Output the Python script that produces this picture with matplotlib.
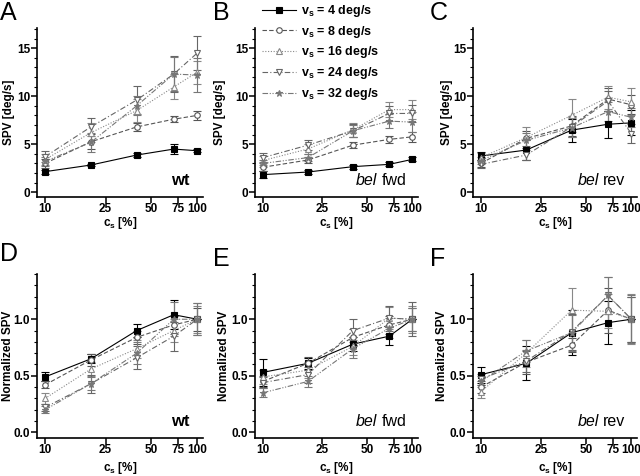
import matplotlib
matplotlib.use("Agg")
import matplotlib.pyplot as plt
from matplotlib.ticker import MultipleLocator, FixedLocator, NullLocator, FormatStrFormatter

plt.rcParams['font.family'] = ['Liberation Sans', 'DejaVu Sans']

contrast = [10, 20, 40, 70, 100]
xticks = [10, 25, 50, 75, 100]
speeds = ["4", "8", "16", "24", "32"]

# Panel A (wt), SPV deg/s
A_mean = [
    [2.14, 2.83, 3.87, 4.49, 4.32],
    [3.0, 5.25, 6.8, 7.6, 8.0],
    [3.4, 6.2, 8.5, 10.96, 12.5],
    [3.7, 6.8, 9.6, 12.3, 14.5],
    [3.2, 5.2, 9.0, 12.3, 12.2],
]
A_err = [
    [0.2, 0.15, 0.2, 0.5, 0.15],
    [0.5, 0.8, 0.4, 0.3, 0.5],
    [0.6, 1.0, 1.2, 1.3, 1.2],
    [0.6, 0.9, 1.5, 1.9, 1.8],
    [0.5, 1.0, 1.0, 1.8, 1.8],
]
# Panel B (bel fwd)
B_mean = [
    [1.83, 2.1, 2.66, 2.9, 3.42],
    [2.6, 3.35, 4.9, 5.5, 5.77],
    [3.3, 4.5, 6.5, 8.6, 8.6],
    [3.6, 4.9, 6.4, 8.2, 8.2],
    [3.0, 3.6, 6.4, 7.4, 7.3],
]
B_err = [
    [0.4, 0.2, 0.2, 0.2, 0.2],
    [0.4, 0.3, 0.3, 0.4, 0.5],
    [0.5, 0.5, 0.7, 0.8, 1.0],
    [0.5, 0.5, 0.7, 0.8, 0.9],
    [0.4, 0.4, 0.6, 0.7, 1.0],
]
# Panel C (bel rev)
C_mean = [
    [3.77, 4.39, 6.46, 7.08, 7.22],
    [3.0, 5.6, 6.9, 9.7, 9.1],
    [3.6, 5.7, 8.0, 9.9, 9.4],
    [2.9, 3.87, 6.8, 9.5, 6.1],
    [3.3, 5.4, 6.7, 8.4, 7.8],
]
C_err = [
    [0.4, 1.0, 1.2, 1.4, 1.3],
    [0.4, 0.8, 1.0, 1.2, 1.0],
    [0.5, 1.1, 1.7, 1.2, 1.4],
    [0.4, 0.5, 1.0, 1.0, 1.0],
    [0.4, 0.8, 1.0, 1.0, 1.0],
]
# Panel D (wt, normalized)
D_mean = [
    [0.49, 0.65, 0.90, 1.04, 1.0],
    [0.42, 0.64, 0.84, 0.95, 1.0],
    [0.30, 0.56, 0.74, 0.90, 1.0],
    [0.22, 0.43, 0.66, 0.85, 1.0],
    [0.20, 0.43, 0.70, 1.00, 1.0],
]
D_err = [
    [0.04, 0.04, 0.06, 0.13, 0.0],
    [0.03, 0.05, 0.06, 0.08, 0.10],
    [0.05, 0.06, 0.08, 0.10, 0.12],
    [0.03, 0.08, 0.10, 0.13, 0.14],
    [0.03, 0.06, 0.10, 0.15, 0.14],
]
# Panel E (bel fwd, normalized)
E_mean = [
    [0.53, 0.61, 0.78, 0.85, 1.0],
    [0.45, 0.61, 0.84, 0.95, 1.0],
    [0.49, 0.55, 0.76, 1.01, 1.0],
    [0.44, 0.51, 0.90, 1.01, 1.0],
    [0.35, 0.45, 0.74, 0.92, 1.0],
]
E_err = [
    [0.12, 0.05, 0.06, 0.08, 0.0],
    [0.05, 0.06, 0.07, 0.08, 0.10],
    [0.06, 0.07, 0.08, 0.10, 0.12],
    [0.05, 0.07, 0.10, 0.11, 0.15],
    [0.04, 0.05, 0.08, 0.09, 0.10],
]
# Panel F (bel rev, normalized)
F_mean = [
    [0.51, 0.61, 0.88, 0.97, 1.0],
    [0.40, 0.62, 0.77, 1.08, 1.0],
    [0.36, 0.70, 1.08, 1.07, 1.0],
    [0.47, 0.63, 0.89, 1.21, 1.0],
    [0.45, 0.72, 0.88, 1.21, 1.0],
]
F_err = [
    [0.07, 0.15, 0.20, 0.19, 0.0],
    [0.05, 0.10, 0.06, 0.20, 0.20],
    [0.06, 0.12, 0.20, 0.15, 0.22],
    [0.05, 0.10, 0.16, 0.16, 0.20],
    [0.05, 0.10, 0.16, 0.16, 0.21],
]

styles = [
    dict(color="black", ls="-", marker="s", mfc="black", ms=4),
    dict(color="#555555", ls=(0, (4, 2)), marker="o", mfc="white", ms=4),
    dict(color="#888888", ls=(0, (1, 1.5)), marker="^", mfc="white", ms=4),
    dict(color="#666666", ls=(0, (5, 2, 1, 2)), marker="v", mfc="white", ms=4),
    dict(color="#777777", ls=(0, (5, 1.5, 1, 1.5, 1, 1.5)), marker="*", mfc="#777777", ms=5),
]

W, H = 640, 476
fig = plt.figure(figsize=(6.4, 4.76), dpi=100)

lefts = [37, 255, 473]
widths = [166, 163, 164]
rows = [(28, 197), (274, 438)]
ylabel_x = [[9, 220, 447], [8, 224, 442]]
letter_xy = [[(0, 1), (213, 1), (430, 1)], [(0, 242), (213, 247), (430, 247)]]

panels = [
    ("A", A_mean, A_err, 0, 0, "wt"),
    ("B", B_mean, B_err, 1, 0, "fwd"),
    ("C", C_mean, C_err, 2, 0, "rev"),
    ("D", D_mean, D_err, 0, 1, "wt"),
    ("E", E_mean, E_err, 1, 1, "fwd"),
    ("F", F_mean, F_err, 2, 1, "rev"),
]

handles = []
for letter, means, errs, col, row, tag in panels:
    top, bot = rows[row]
    ax = fig.add_axes([lefts[col]/W, 1 - bot/H, widths[col]/W, (bot-top)/H])
    for i in range(5):
        st = styles[i]
        eb = ax.errorbar(contrast, means[i], yerr=errs[i], color=st["color"], ls=st["ls"],
                         lw=0.8, marker=st["marker"], mfc=st["mfc"], mec=st["color"],
                         ms=st["ms"], mew=0.8, capsize=3, elinewidth=0.8, capthick=0.8)
        if letter == "B":
            handles.append(eb.lines[0])
    ax.set_xscale("log")
    ax.set_xlim(8.85, 109)
    ax.xaxis.set_major_locator(FixedLocator(xticks))
    ax.xaxis.set_minor_locator(NullLocator())
    ax.set_xticklabels([str(t) for t in xticks])
    if row == 0:
        ax.set_ylim(-0.5, 17.1)
        ax.yaxis.set_major_locator(MultipleLocator(5))
        ax.yaxis.set_minor_locator(MultipleLocator(1))
        ylabel = "SPV [deg/s]"
    else:
        ax.set_ylim(-0.05, 1.40)
        ax.yaxis.set_major_locator(MultipleLocator(0.5))
        ax.yaxis.set_minor_locator(MultipleLocator(0.1))
        ax.yaxis.set_major_formatter(FormatStrFormatter("%.1f"))
        ylabel = "Normalized SPV"
    ax.set_ylabel(ylabel, fontsize=8.5, fontweight="bold", va="center")
    ax.yaxis.set_label_coords((ylabel_x[row][col] - lefts[col]) / widths[col], 0.5)
    ax.set_xlabel(r"c$_\mathregular{s}$ [%]", fontsize=8.5, fontweight="bold", va="center")
    xl_y = 223 if row == 0 else 468
    ax.xaxis.set_label_coords(0.5, (bot - xl_y) / (bot - top))
    for s in ("top", "right"):
        ax.spines[s].set_visible(False)
    ax.spines["left"].set_linewidth(1.2)
    ax.spines["bottom"].set_linewidth(1.2)
    ax.tick_params(axis="both", which="major", direction="out", length=4, width=1.1,
                   labelsize=8.5, pad=1.0)
    ax.tick_params(axis="x", which="major", pad=0.5)
    ax.tick_params(axis="y", which="minor", direction="out", length=2, width=0.8)
    for lab in ax.get_xticklabels() + ax.get_yticklabels():
        lab.set_fontweight("bold")
    lx, ly = letter_xy[row][col]
    fig.text(lx/W, 1 - ly/H, letter, fontsize=18, va="top", ha="left")
    # genotype tag
    if tag == "wt":
        ax.text(0.92, 0.055, "wt", transform=ax.transAxes, ha="right", va="bottom",
                fontsize=12, fontweight="bold")
    else:
        word = "fwd" if tag == "fwd" else "rev"
        ax.text(0.93, 0.055, word, transform=ax.transAxes, ha="right", va="bottom",
                fontsize=11.5)
        tmp = ax.text(0.93, 0.055, "bel " + word, transform=ax.transAxes, ha="right",
                      va="bottom", fontsize=11.5, alpha=0)
        fig.canvas.draw()
        bb = tmp.get_window_extent(fig.canvas.get_renderer())
        tmp.remove()
        x0 = ax.transAxes.inverted().transform((bb.x0, bb.y0))[0]
        ax.text(x0, 0.055, "bel", transform=ax.transAxes, ha="left", va="bottom",
                fontsize=11.5, fontstyle="italic")

labels = [r"v$_\mathregular{s}$ = %s deg/s" % s for s in speeds]
fig.legend(handles, labels, loc="upper left", bbox_to_anchor=(262/W, 1 - 3/H),
           frameon=False, prop=dict(weight="bold", size=9),
           handlelength=2.7, handletextpad=0.45, labelspacing=0.38, borderaxespad=0,
           borderpad=0)

fig.savefig("out.png", dpi=100)
